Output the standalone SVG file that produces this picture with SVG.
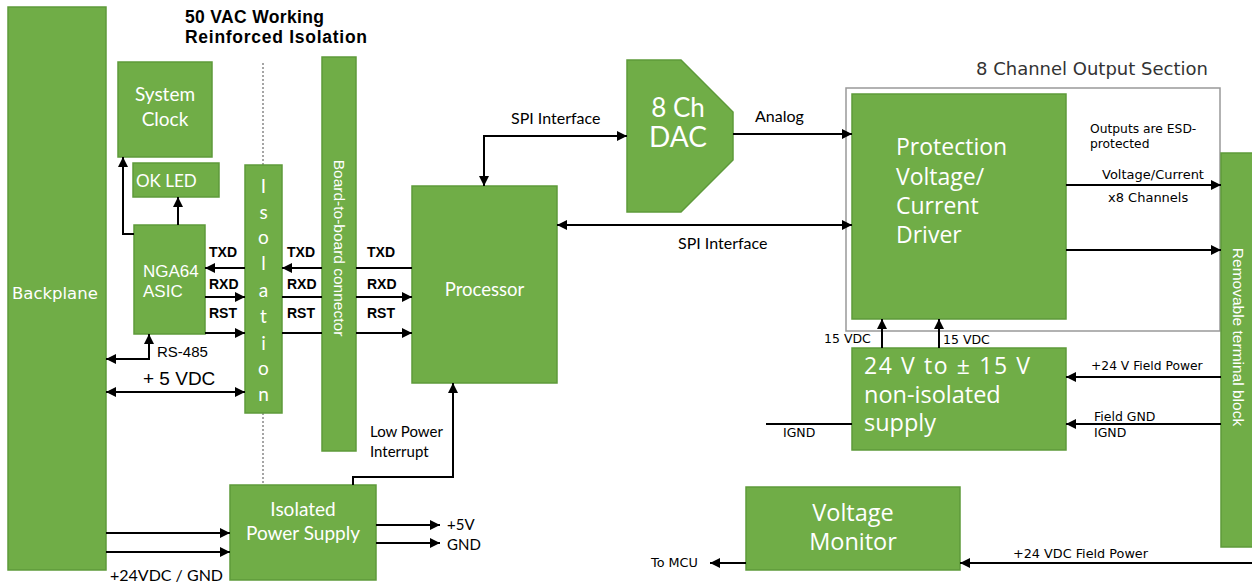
<svg xmlns="http://www.w3.org/2000/svg" width="1252" height="584" viewBox="0 0 1252 584">
<style>
.box{fill:#70AD47;stroke:#5E9A3A;stroke-width:1.5}
.w{fill:#fff}
.cal{font-family:Lato,"Liberation Sans",sans-serif}
.seg{font-family:"Open Sans","Noto Sans",sans-serif}
.ari{font-family:"Liberation Sans",Arial,sans-serif}
.dv{font-family:"DejaVu Sans",Verdana,sans-serif}
.b{font-weight:bold}
.ln{stroke:#000;stroke-width:2;fill:none}
.ae{marker-end:url(#ah)}
.ab{marker-start:url(#ah);marker-end:url(#ah)}
.dot{stroke:#888;stroke-width:1.5;stroke-dasharray:2 2;fill:none}
</style>
<defs>
<marker id="ah" viewBox="0 0 10 10" refX="10" refY="5" markerWidth="11" markerHeight="10" markerUnits="userSpaceOnUse" orient="auto-start-reverse">
<path d="M0,0 L10,5 L0,10 z" fill="#000"/>
</marker>
</defs>

<g id="title">
<text x="185" y="23" class="ari b" font-size="17.5" textLength="139" lengthAdjust="spacing">50 VAC Working</text>
<text x="185" y="43" class="ari b" font-size="17.5" textLength="182" lengthAdjust="spacing">Reinforced Isolation</text>
</g>

<g id="isolation-barrier">
<line x1="263" y1="63" x2="263" y2="165" class="dot"/>
<line x1="263" y1="413" x2="263" y2="485" class="dot"/>
</g>

<g id="backplane">
<rect x="8" y="7" width="98" height="563" class="box"/>
<text x="12" y="299" class="dv w" font-size="16.5">Backplane</text>
</g>

<g id="system-clock">
<rect x="118" y="62" width="94" height="95" class="box"/>
<text x="165" y="101" class="cal w" font-size="19" text-anchor="middle">System</text>
<text x="165" y="126" class="cal w" font-size="19" text-anchor="middle">Clock</text>
</g>

<g id="ok-led">
<rect x="133" y="163" width="86" height="34" class="box"/>
<text x="136" y="187" class="cal w" font-size="17">OK LED</text>
</g>

<g id="asic">
<rect x="134" y="225" width="71" height="109" class="box"/>
<text x="143" y="277" class="ari w" font-size="17">NGA64</text>
<text x="143" y="297" class="ari w" font-size="17">ASIC</text>
</g>

<g id="isolation">
<rect x="245" y="165" width="37" height="248" class="box"/>
<g class="cal w" font-size="19" text-anchor="middle">
<text x="263.5" y="193">I</text>
<text x="263.5" y="219">s</text>
<text x="263.5" y="244">o</text>
<text x="263.5" y="270">l</text>
<text x="263.5" y="297">a</text>
<text x="263.5" y="323">t</text>
<text x="263.5" y="350">i</text>
<text x="263.5" y="375">o</text>
<text x="263.5" y="401">n</text>
</g>
</g>

<g id="board-connector">
<rect x="322" y="57" width="34" height="394" class="box"/>
<text transform="translate(339,248) rotate(90)" y="5" class="ari w" font-size="15.5" text-anchor="middle">Board-to-board connector</text>
</g>

<g id="processor">
<rect x="412" y="186" width="145" height="197" class="box"/>
<text x="484.5" y="296" class="cal w" font-size="18.5" text-anchor="middle">Processor</text>
</g>

<g id="dac">
<polygon points="627,60 681,60 733,112 733,160 681,212 627,212" class="box"/>
<text x="678" y="117" class="cal w" font-size="26" text-anchor="middle">8 Ch</text>
<text x="678" y="147" class="cal w" font-size="28" text-anchor="middle">DAC</text>
</g>

<g id="isolated-power-supply">
<rect x="230" y="485" width="146" height="95" class="box"/>
<text x="303" y="516" class="cal w" font-size="19" text-anchor="middle">Isolated</text>
<text x="303" y="540" class="cal w" font-size="19" text-anchor="middle">Power Supply</text>
</g>

<g id="output-section">
<rect x="846" y="88" width="374" height="243" fill="none" stroke="#999" stroke-width="1.5"/>
<text x="976" y="75" class="dv" font-size="18" fill="#333">8 Channel Output Section</text>
</g>

<g id="driver">
<rect x="852" y="94" width="214" height="225" class="box"/>
<text x="896" y="155" class="seg w" font-size="23">Protection</text>
<text x="896" y="185" class="seg w" font-size="23">Voltage/</text>
<text x="896" y="214" class="seg w" font-size="23">Current</text>
<text x="896" y="243" class="seg w" font-size="23">Driver</text>
</g>

<g id="supply-15v">
<rect x="852" y="348" width="214" height="102" class="box"/>
<text x="864" y="374" class="seg w" font-size="23" textLength="166" lengthAdjust="spacing">24 V to ± 15 V</text>
<text x="864" y="403" class="seg w" font-size="23.5">non-isolated</text>
<text x="864" y="431" class="seg w" font-size="23.5">supply</text>
</g>

<g id="voltage-monitor">
<rect x="746" y="487" width="214" height="83" class="box"/>
<text x="853" y="521" class="seg w" font-size="23.5" text-anchor="middle">Voltage</text>
<text x="853" y="550" class="seg w" font-size="23.5" text-anchor="middle">Monitor</text>
</g>

<g id="terminal-block">
<rect x="1221" y="153" width="33" height="394" class="box"/>
<text transform="translate(1238,337) rotate(90)" y="5" class="ari w" font-size="15.5" text-anchor="middle">Removable terminal block</text>
</g>

<g id="connectors">
<line x1="412" y1="268" x2="356" y2="268" class="ln"/>
<line x1="322" y1="268" x2="282" y2="268" class="ln ae"/>
<line x1="245" y1="268" x2="205" y2="268" class="ln ae"/>
<line x1="205" y1="297" x2="245" y2="297" class="ln ae"/>
<line x1="282" y1="297" x2="322" y2="297" class="ln"/>
<line x1="356" y1="297" x2="412" y2="297" class="ln ae"/>
<line x1="205" y1="333" x2="245" y2="333" class="ln ae"/>
<line x1="282" y1="333" x2="322" y2="333" class="ln"/>
<line x1="356" y1="333" x2="412" y2="333" class="ln ae"/>
<line x1="178" y1="225" x2="178" y2="197" class="ln ae"/>
<polyline points="134,234 123,234 123,157" class="ln ae"/>
<polyline points="106,359 149,359 149,334" class="ln ab"/>
<line x1="106" y1="392" x2="245" y2="392" class="ln ab"/>
<line x1="106" y1="533" x2="230" y2="533" class="ln ae"/>
<line x1="106" y1="552" x2="230" y2="552" class="ln ae"/>
<line x1="376" y1="525" x2="440" y2="525" class="ln ae"/>
<line x1="376" y1="543" x2="440" y2="543" class="ln ae"/>
<polyline points="353,485 353,477 453,477 453,383" class="ln ae"/>
<polyline points="484,186 484,136 627,136" class="ln ab"/>
<line x1="733" y1="134" x2="852" y2="134" class="ln ae"/>
<line x1="557" y1="225" x2="852" y2="225" class="ln ab"/>
<line x1="1066" y1="185" x2="1221" y2="185" class="ln ae"/>
<line x1="1066" y1="250" x2="1221" y2="250" class="ln ae"/>
<line x1="882" y1="348" x2="882" y2="319" class="ln ae"/>
<line x1="939" y1="348" x2="939" y2="319" class="ln ae"/>
<line x1="1221" y1="377" x2="1066" y2="377" class="ln ae"/>
<line x1="1221" y1="424" x2="1066" y2="424" class="ln ae"/>
<line x1="766" y1="424" x2="852" y2="424" class="ln"/>
<line x1="1252" y1="563" x2="960" y2="563" class="ln ae"/>
<line x1="746" y1="563" x2="710" y2="563" class="ln ae"/>
</g>

<g id="labels">
<g class="ari b" font-size="14">
<text x="209" y="257">TXD</text>
<text x="209" y="289">RXD</text>
<text x="209" y="318">RST</text>
<text x="287" y="257">TXD</text>
<text x="287" y="289">RXD</text>
<text x="287" y="318">RST</text>
<text x="367" y="257">TXD</text>
<text x="367" y="289">RXD</text>
<text x="367" y="318">RST</text>
</g>
<text x="157" y="357" class="ari" font-size="15">RS-485</text>
<text x="143" y="385" class="ari" font-size="19">+ 5 VDC</text>
<text x="110" y="581" class="cal" font-size="16">+24VDC / GND</text>
<text x="447" y="530" class="cal" font-size="15">+5V</text>
<text x="447" y="550" class="cal" font-size="15">GND</text>
<text x="370" y="437" class="cal" font-size="15">Low Power</text>
<text x="370" y="457" class="cal" font-size="15">Interrupt</text>
<text x="511" y="124" class="cal" font-size="16">SPI Interface</text>
<text x="755" y="122" class="cal" font-size="16">Analog</text>
<text x="678" y="249" class="cal" font-size="16">SPI Interface</text>
<text x="1090" y="133" class="dv" font-size="12.3">Outputs are ESD-</text>
<text x="1090" y="148" class="dv" font-size="12.3">protected</text>
<text x="1102" y="179" class="dv" font-size="13">Voltage/Current</text>
<text x="1108" y="202" class="dv" font-size="13">x8 Channels</text>
<text x="824" y="343" class="dv" font-size="12.5">15 VDC</text>
<text x="943" y="344" class="dv" font-size="12.5">15 VDC</text>
<text x="1091" y="370" class="dv" font-size="12.3">+24 V Field Power</text>
<text x="1094" y="421" class="dv" font-size="12.5">Field GND</text>
<text x="1094" y="437" class="dv" font-size="12.5">IGND</text>
<text x="783" y="437" class="dv" font-size="12.5">IGND</text>
<text x="1013" y="558" class="dv" font-size="12.8">+24 VDC Field Power</text>
<text x="651" y="567" class="dv" font-size="12.8">To MCU</text>
</g>
</svg>
